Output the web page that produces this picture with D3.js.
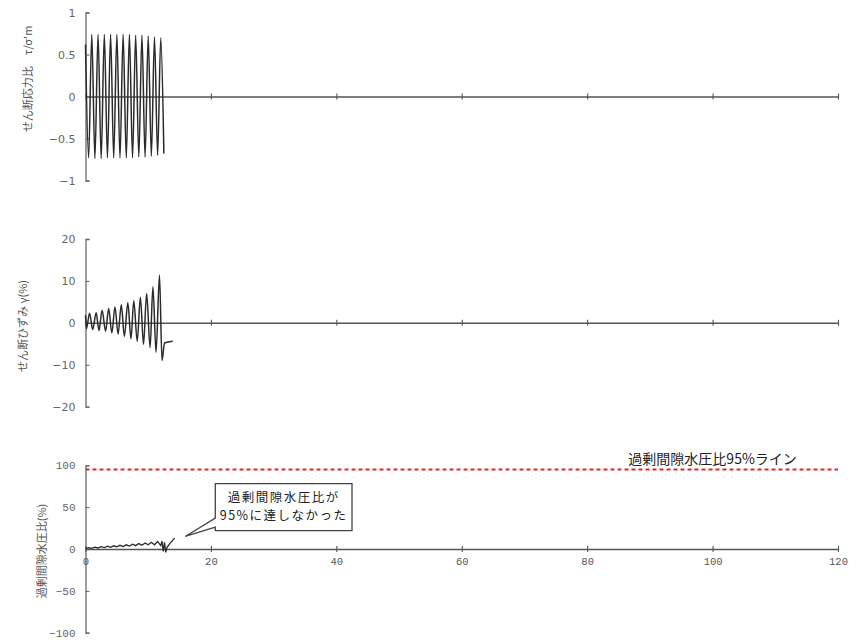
<!DOCTYPE html>
<html><head><meta charset="utf-8">
<script src="https://cdn.jsdelivr.net/npm/d3@7"></script>
<style>body{margin:0;background:#fff}</style></head>
<body>
<svg id="c" width="856" height="641"></svg>
<script>
// ---------- data ----------
const timeTicks = [0, 20, 40, 60, 80, 100, 120];
const stressTicks = [-1, -0.5, 0, 0.5, 1];
const strainTicks = [-20, -10, 0, 10, 20];
const ppTicks = [-100, -50, 0, 50, 100];

// shear stress ratio (extremes of each half cycle)
const stressT = [0, 0.5, 1, 1.5, 2, 2.5, 3, 3.5, 4, 4.5, 5, 5.5, 6, 6.5, 7, 7.5, 8, 8.5, 9, 9.5, 10, 10.5, 11, 11.5, 12, 12.5];
const stressV = [0.62, -0.73, 0.74, -0.74, 0.74, -0.74, 0.74, -0.73, 0.74, -0.73, 0.74, -0.73, 0.74, -0.73, 0.74, -0.73, 0.73, -0.72, 0.73, -0.72, 0.72, -0.71, 0.71, -0.70, 0.70, -0.68];

// shear strain (%)
const strainT = [0, 0.15, 0.65, 1.15, 1.7, 2.15, 2.65, 3.2, 3.7, 4.2, 4.7, 5.2, 5.7, 6.2, 6.75, 7.25, 7.7, 8.25, 8.75, 9.25, 9.75, 10.3, 10.75, 11.25, 11.8, 12.2, 12.6, 13.9];
const strainV = [1.8, -1.4, 2.3, -1.6, 2.4, -1.8, 3.0, -2.0, 3.4, -2.4, 3.8, -2.7, 4.3, -3.2, 4.8, -3.8, 5.3, -4.4, 6.1, -5.1, 7.0, -5.9, 8.6, -7.0, 11.4, -9.0, -4.8, -4.4];

// excess pore water pressure ratio (%)
const ppT = [0, 0.5, 1, 1.5, 2, 2.5, 3, 3.5, 4, 4.5, 5, 5.5, 6, 6.5, 7, 7.5, 8, 8.5, 9, 9.5, 10, 10.5, 11, 11.5, 12, 12.2, 12.4, 12.6, 12.8, 13.0, 13.5, 14.2];
const ppV = [0.5, 1.5, 0.8, 2.2, 1.2, 2.8, 1.6, 3.3, 2.0, 3.8, 2.5, 4.4, 3.0, 5.0, 3.5, 5.8, 4.0, 6.5, 4.5, 7.2, 5.0, 8.0, 5.0, 9.0, 4.0, 9.5, -3.0, 8.0, -4.0, 2.0, 7.0, 13.0];

const limitValue = 95;
const limitLabel = "過剰間隙水圧比95%ライン";
const calloutLines = ["過剰間隙水圧比が", "95%に達しなかった"];

// ---------- drawing ----------
const svg = d3.select("#c");
const x = d3.scaleLinear().domain([0, 120]).range([85.5, 838]);
const GRAY = "#6a6a6a";

function makePanel(cfg) {
  const y = d3.scaleLinear().domain(cfg.domain).range(cfg.range);
  const g = svg.append("g");

  const ya = g.append("g").attr("transform", `translate(${x(0)},0)`)
    .call(d3.axisLeft(y).tickValues(cfg.ticks).tickSize(-4).tickPadding(10)
      .tickFormat(cfg.fmt));
  ya.select(".domain").attr("stroke", GRAY).attr("stroke-width", 1.3);
  ya.selectAll(".tick line").attr("stroke", GRAY).attr("stroke-width", 1.1);
  ya.selectAll("text").attr("fill", "#666").style("font-family", cfg.font).style("font-size", cfg.fontSize);

  const xa = g.append("g").attr("transform", `translate(0,${y(0)})`)
    .call(d3.axisBottom(x).tickValues(timeTicks).tickSizeInner(3).tickSizeOuter(0).tickPadding(6)
      .tickFormat(cfg.xLabels ? d3.format("d") : () => ""));
  xa.select(".domain").attr("stroke", "#555").attr("stroke-width", 1.5);
  xa.selectAll(".tick line").attr("y1", -3).attr("stroke", "#555").attr("stroke-width", 1.1);
  xa.selectAll("text").attr("fill", "#555").style("font-family", "Liberation Mono, monospace").style("font-size", "10.5px");

  g.append("text")
    .attr("transform", `translate(${cfg.titleX},${cfg.titleY}) rotate(-90)`)
    .attr("text-anchor", "middle").attr("dominant-baseline", "central")
    .attr("fill", "#555").style("font-family", "Noto Sans CJK JP").style("font-size", "11px")
    .text(cfg.title);

  const pts = cfg.t.map((t, i) => [t, cfg.v[i]]);
  g.append("path").datum(pts)
    .attr("fill", "none").attr("stroke", "#2b2b2b").attr("stroke-width", cfg.sw)
    .attr("d", d3.line().x(d => x(d[0])).y(d => y(d[1])).curve(cfg.curve)(pts));
  return { g, y };
}

makePanel({ domain: [-1, 1], range: [180.5, 12.5], ticks: stressTicks, fmt: d3.format("~g"),
  font: "DejaVu Sans", fontSize: "11px", title: "せん断応力比　τ/σ'm", titleX: 27, titleY: 79,
  t: stressT, v: stressV, curve: d3.curveMonotoneX, xLabels: false, sw: 1.5 });

makePanel({ domain: [-20, 20], range: [406.7, 239], ticks: strainTicks, fmt: d3.format("d"),
  font: "DejaVu Sans", fontSize: "11px", title: "せん断ひずみ γ(%)", titleX: 22, titleY: 326,
  t: strainT, v: strainV, curve: d3.curveMonotoneX, xLabels: false, sw: 1.5 });

const bottom = makePanel({ domain: [-100, 100], range: [632.7, 465.3], ticks: ppTicks, fmt: d3.format("d"),
  font: "Liberation Mono, monospace", fontSize: "11px", title: "過剰間隙水圧比(%)", titleX: 41, titleY: 551,
  t: ppT, v: ppV, curve: d3.curveLinear, xLabels: true, sw: 1.3 });

const yb = bottom.y;
bottom.g.append("line")
  .attr("x1", x(0)).attr("x2", x(120)).attr("y1", yb(limitValue)).attr("y2", yb(limitValue))
  .attr("stroke", "#e0282c").attr("stroke-width", 2).attr("stroke-dasharray", "4,3");
bottom.g.append("text")
  .attr("x", x(100)).attr("y", yb(limitValue) - 11)
  .attr("text-anchor", "middle").attr("dominant-baseline", "central")
  .attr("fill", "#222").style("font-family", "Noto Sans CJK JP").style("font-size", "14px")
  .text(limitLabel);

// callout
const bx0 = x(20.7), bx1 = x(42.5), by0 = yb(78), by1 = yb(22);
const tipX = x(15.9), tipY = yb(15);
const w1 = yb(37), w2 = yb(26);
const p = d3.path();
p.moveTo(bx0, by0); p.lineTo(bx1, by0); p.lineTo(bx1, by1); p.lineTo(bx0, by1);
p.lineTo(bx0, w2); p.lineTo(tipX, tipY); p.lineTo(bx0, w1); p.closePath();
bottom.g.append("path").attr("d", p.toString())
  .attr("fill", "#fff").attr("stroke", "#444").attr("stroke-width", 1.3);
bottom.g.selectAll("text.callout").data(calloutLines).join("text")
  .attr("class", "callout")
  .attr("x", (bx0 + bx1) / 2).attr("y", (d, i) => by0 + 13 + i * 18)
  .attr("text-anchor", "middle").attr("dominant-baseline", "central")
  .attr("fill", "#222").style("font-family", "Noto Sans CJK JP").style("font-size", "12.5px")
  .style("letter-spacing", "1.5px")
  .text(d => d);
</script>
</body></html>
